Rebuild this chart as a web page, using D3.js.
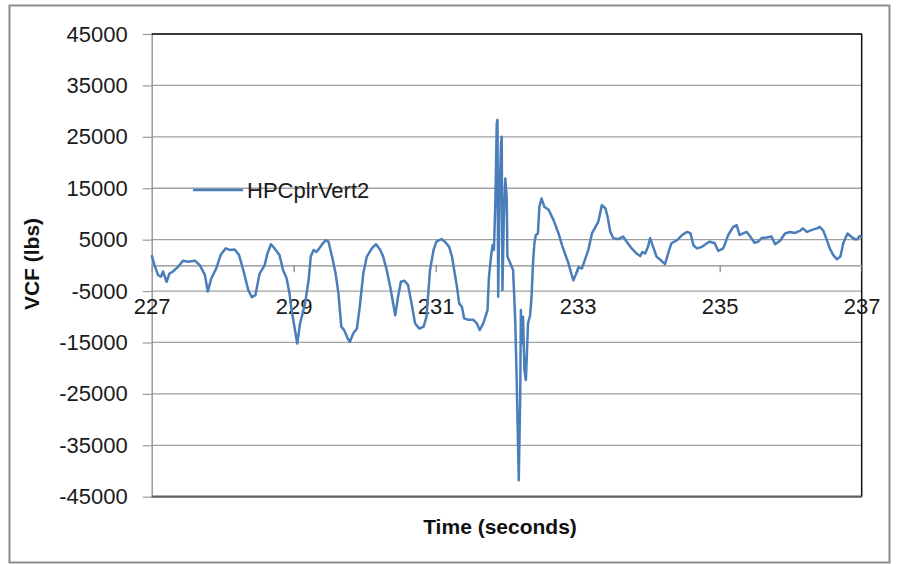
<!DOCTYPE html>
<html>
<head>
<meta charset="utf-8">
<script src="https://cdn.jsdelivr.net/npm/d3@7"></script>
<style>
  body { margin: 0; background: #fff; }
  svg { display: block; font-family: "Liberation Sans", Arial, sans-serif; }
</style>
</head>
<body>
<svg id="chart" width="899" height="564"></svg>
<script>
// time (s)
const times = [
  227.00, 227.04, 227.09, 227.13, 227.16, 227.21, 227.25, 227.30, 227.37, 227.44,
  227.51, 227.61, 227.68, 227.75, 227.79, 227.84, 227.91, 227.97, 228.04, 228.10,
  228.17, 228.23, 228.29, 228.36, 228.41, 228.46, 228.52, 228.59, 228.63, 228.68,
  228.73, 228.80, 228.85, 228.90, 228.94, 228.97, 229.01, 229.05, 229.09, 229.16,
  229.21, 229.24, 229.28, 229.32, 229.36, 229.39, 229.45, 229.49, 229.54, 229.59,
  229.63, 229.67, 229.71, 229.76, 229.79, 229.84, 229.89, 229.93, 229.98, 230.03,
  230.10, 230.16, 230.22, 230.26, 230.31, 230.36, 230.43, 230.47, 230.51, 230.56,
  230.61, 230.66, 230.71, 230.77, 230.83, 230.87, 230.92, 230.97, 231.01, 231.08,
  231.13, 231.19, 231.23, 231.26, 231.30, 231.33, 231.37, 231.40, 231.46, 231.53,
  231.58, 231.62, 231.67, 231.70, 231.73, 231.75, 231.78, 231.80, 231.82, 231.84,
  231.86, 231.87, 231.88, 231.90, 231.92, 231.93, 231.94, 231.96, 231.98, 232.00,
  232.01, 232.05, 232.09, 232.12, 232.14, 232.16, 232.17, 232.19, 232.20, 232.21,
  232.23, 232.25, 232.27, 232.29, 232.30, 232.33, 232.35, 232.37, 232.39, 232.41,
  232.44, 232.46, 232.49, 232.53, 232.59, 232.66, 232.73, 232.78, 232.82, 232.87,
  232.91, 232.94, 232.97, 233.01, 233.06, 233.10, 233.15, 233.20, 233.24, 233.29,
  233.34, 233.39, 233.42, 233.46, 233.50, 233.57, 233.64, 233.69, 233.76, 233.83,
  233.88, 233.91, 233.95, 233.99, 234.02, 234.07, 234.11, 234.17, 234.23, 234.28,
  234.32, 234.40, 234.47, 234.54, 234.59, 234.63, 234.68, 234.75, 234.82, 234.86,
  234.93, 234.98, 235.05, 235.12, 235.19, 235.24, 235.28, 235.33, 235.38, 235.43,
  235.49, 235.54, 235.59, 235.66, 235.73, 235.78, 235.85, 235.92, 235.99, 236.06,
  236.13, 236.17, 236.23, 236.30, 236.37, 236.41, 236.46, 236.51, 236.55, 236.60,
  236.65, 236.70, 236.74, 236.80, 236.85, 236.90, 236.94, 236.97, 237.00
];

// HPCplrVert2 vertical coupler force (lbs)
const vcf = [
  2000, 0, -1900, -2200, -1200, -3200, -1600, -1200, -300, 900,
  700, 900, 0, -1900, -5100, -2500, -600, 2000, 3300, 3000,
  3100, 2000, -900, -4800, -6200, -5800, -1600, 0, 2300, 4100,
  3300, 2000, -900, -2500, -5400, -8700, -11900, -15200, -11300, -7400,
  -2900, 1700, 3000, 2600, 3300, 3900, 4900, 4600, 1700, -1600,
  -5400, -11900, -12600, -14200, -14900, -13200, -12300, -8100, -1600, 1700,
  3300, 4100, 3000, 1700, -900, -4200, -9700, -6100, -3200, -3000,
  -3800, -7400, -11300, -12300, -11900, -10000, -900, 3000, 4600, 5100,
  4600, 3600, 1700, -900, -4200, -7400, -8100, -10300, -10600, -10600,
  -11300, -12600, -11300, -10000, -8700, -2200, 1700, 3900, 3000, 12100,
  27600, 28300, -6100, 14000, 23700, 25000, -4800, 9500, 16900, 13300,
  1700, 400, -900, -10600, -21700, -35300, -41800, -25600, -8700, -15200,
  -10000, -20400, -22300, -15200, -11300, -9700, -6100, 400, 4300, 5900,
  6200, 11400, 13000, 11400, 10800, 8800, 6200, 3900, 2300, 400,
  -1600, -2900, -1900, -400, -600, 1000, 3000, 6200, 7200, 8500,
  11700, 11100, 9500, 6500, 5300, 5100, 5600, 4600, 3300, 2300,
  1800, 2600, 2300, 3600, 5300, 3300, 1700, 1000, 250, 2600,
  4300, 4900, 5900, 6500, 6200, 3900, 3300, 3600, 4300, 4600,
  4300, 2800, 3300, 5900, 7500, 7800, 5900, 6200, 6500, 5600,
  4400, 4600, 5300, 5400, 5600, 4100, 4800, 6200, 6500, 6300,
  6700, 7200, 6500, 6900, 7200, 7500, 6700, 4900, 3300, 2000,
  1200, 1700, 4300, 6200, 5600, 5100, 5100, 5700, 5400
];

const xTicks = [227, 229, 231, 233, 235, 237];
const yTicks = [45000, 35000, 25000, 15000, 5000, -5000, -15000, -25000, -35000, -45000];
const seriesName = "HPCplrVert2";

const svg = d3.select("#chart");
const plotLeft = 151.7, plotRight = 861.7, plotTop = 34, plotBottom = 496.7;

const x = d3.scaleLinear().domain([227, 237]).range([plotLeft, plotRight]);
const y = d3.scaleLinear().domain([-45000, 45000]).range([plotBottom, plotTop]);

// outer chart frame
svg.append("rect")
  .attr("x", 9.5).attr("y", 5.5).attr("width", 880).attr("height", 557)
  .attr("fill", "#fff").attr("stroke", "#8c8c8c").attr("stroke-width", 2);

// horizontal gridlines
svg.append("g")
  .selectAll("line")
  .data(yTicks)
  .join("line")
  .attr("x1", plotLeft).attr("x2", plotRight)
  .attr("y1", d => y(d)).attr("y2", d => y(d))
  .attr("stroke", "#a0a0a0").attr("stroke-width", 1.3);

// y axis
const yAxis = svg.append("g")
  .attr("transform", `translate(${plotLeft},0)`)
  .call(d3.axisLeft(y).tickValues(yTicks).tickSize(9).tickPadding(15)
    .tickSizeOuter(0).tickFormat(d => String(d)));
yAxis.select(".domain").attr("stroke", "#8c8c8c").attr("stroke-width", 1.3);
yAxis.selectAll(".tick line").attr("stroke", "#a0a0a0").attr("stroke-width", 1.3);
yAxis.selectAll("text").attr("font-size", 22).attr("fill", "#1a1a1a");

// plot frame: top/right black, bottom dark grey
svg.append("line").attr("x1", plotLeft).attr("x2", plotRight).attr("y1", plotTop).attr("y2", plotTop)
  .attr("stroke", "#111").attr("stroke-width", 1.3);
svg.append("line").attr("x1", plotRight).attr("x2", plotRight).attr("y1", plotTop).attr("y2", plotBottom)
  .attr("stroke", "#111").attr("stroke-width", 1.5);
svg.append("line").attr("x1", plotLeft).attr("x2", plotRight).attr("y1", plotBottom).attr("y2", plotBottom)
  .attr("stroke", "#606060").attr("stroke-width", 2.2);

// x axis crossing at zero
const xAxis = svg.append("g")
  .attr("transform", `translate(0,${y(0)})`)
  .call(d3.axisBottom(x).tickValues(xTicks).tickSize(7).tickPadding(26)
    .tickSizeOuter(0).tickFormat(d => String(d)));
xAxis.select(".domain").attr("stroke", "#8c8c8c").attr("stroke-width", 1.3);
xAxis.selectAll(".tick line").attr("stroke", "#8c8c8c").attr("stroke-width", 1.3);
xAxis.selectAll("text").attr("font-size", 22).attr("fill", "#1a1a1a");

// series line
const line = d3.line()
  .x((d, i) => x(times[i]))
  .y(d => y(d));

svg.append("path")
  .datum(vcf)
  .attr("fill", "none")
  .attr("stroke", "#4a7ebb")
  .attr("stroke-width", 2.5)
  .attr("stroke-linejoin", "round")
  .attr("d", line);

// legend
svg.append("line")
  .attr("x1", 193).attr("x2", 243).attr("y1", 190).attr("y2", 190)
  .attr("stroke", "#4a7ebb").attr("stroke-width", 2.5);
svg.append("text")
  .attr("x", 247).attr("y", 198)
  .attr("font-size", 22).attr("fill", "#1a1a1a")
  .text(seriesName);

// axis titles
svg.append("text")
  .attr("transform", "translate(39,264) rotate(-90)")
  .attr("text-anchor", "middle")
  .attr("font-size", 21).attr("font-weight", "bold").attr("fill", "#111")
  .text("VCF (lbs)");

svg.append("text")
  .attr("x", 500).attr("y", 534)
  .attr("text-anchor", "middle")
  .attr("font-size", 21).attr("font-weight", "bold").attr("fill", "#111")
  .text("Time (seconds)");
</script>
</body>
</html>
